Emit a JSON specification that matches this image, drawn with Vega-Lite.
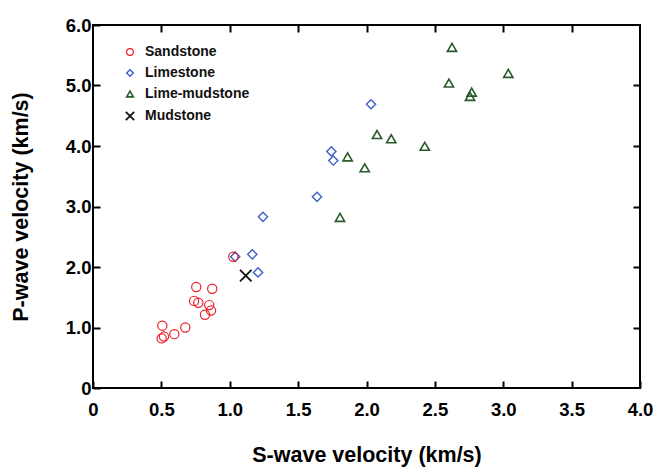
{
  "$schema": "https://vega.github.io/schema/vega-lite/v6.json",
  "width": 547,
  "height": 363,
  "autosize": "none",
  "padding": {"left": 93, "top": 25, "right": 13, "bottom": 80},
  "background": "white",
  "config": {
    "view": {"stroke": "black", "strokeWidth": 2},
    "font": "Liberation Sans",
    "axis": {
      "domain": false, "grid": false, "labelFlush": false, "labelOverlap": false,
      "tickColor": "black", "tickWidth": 2, "tickSize": 7, "tickOffset": 0,
      "labelColor": "black", "labelFont": "Liberation Sans", "labelFontSize": 18.5, "labelFontWeight": "bold",
      "titleColor": "black", "titleFont": "Liberation Sans", "titleFontSize": 21.5, "titleFontWeight": "bold"
    }
  },
  "data": {"values": [
    {"s": 1.04, "p": 2.17, "rock": "Limestone"},
    {"s": 2.033, "p": 4.69, "rock": "Limestone"},
    {"s": 1.743, "p": 3.91, "rock": "Limestone"},
    {"s": 1.757, "p": 3.76, "rock": "Limestone"},
    {"s": 1.638, "p": 3.16, "rock": "Limestone"},
    {"s": 1.243, "p": 2.83, "rock": "Limestone"},
    {"s": 1.165, "p": 2.21, "rock": "Limestone"},
    {"s": 1.207, "p": 1.91, "rock": "Limestone"},
    {"s": 1.026, "p": 2.17, "rock": "Sandstone"},
    {"s": 0.755, "p": 1.67, "rock": "Sandstone"},
    {"s": 0.872, "p": 1.64, "rock": "Sandstone"},
    {"s": 0.739, "p": 1.44, "rock": "Sandstone"},
    {"s": 0.770, "p": 1.41, "rock": "Sandstone"},
    {"s": 0.850, "p": 1.37, "rock": "Sandstone"},
    {"s": 0.863, "p": 1.28, "rock": "Sandstone"},
    {"s": 0.819, "p": 1.21, "rock": "Sandstone"},
    {"s": 0.675, "p": 1.00, "rock": "Sandstone"},
    {"s": 0.507, "p": 1.03, "rock": "Sandstone"},
    {"s": 0.519, "p": 0.85, "rock": "Sandstone"},
    {"s": 0.502, "p": 0.82, "rock": "Sandstone"},
    {"s": 0.595, "p": 0.89, "rock": "Sandstone"},
    {"s": 2.077, "p": 4.19, "rock": "Lime-mudstone"},
    {"s": 2.181, "p": 4.12, "rock": "Lime-mudstone"},
    {"s": 1.862, "p": 3.82, "rock": "Lime-mudstone"},
    {"s": 1.987, "p": 3.64, "rock": "Lime-mudstone"},
    {"s": 1.806, "p": 2.82, "rock": "Lime-mudstone"},
    {"s": 2.625, "p": 5.63, "rock": "Lime-mudstone"},
    {"s": 3.037, "p": 5.20, "rock": "Lime-mudstone"},
    {"s": 2.603, "p": 5.04, "rock": "Lime-mudstone"},
    {"s": 2.769, "p": 4.89, "rock": "Lime-mudstone"},
    {"s": 2.757, "p": 4.82, "rock": "Lime-mudstone"},
    {"s": 2.426, "p": 3.995, "rock": "Lime-mudstone"},
    {"s": 1.117, "p": 1.856, "rock": "Mudstone"}
  ]},
  "layer": [
    {
      "mark": {"type": "point", "filled": false, "opacity": 1, "size": 85},
      "encoding": {
        "x": {"field": "s", "type": "quantitative", "scale": {"domain": [0, 4], "nice": false, "zero": false},
              "axis": {"orient": "bottom", "values": [0, 0.5, 1, 1.5, 2, 2.5, 3, 3.5, 4], "labelExpr": "datum.value == 0 ? '0' : format(datum.value, '.1f')", "title": "S-wave velocity (km/s)", "tickSize": -7, "labelPadding": 19, "titlePadding": 26}},
        "y": {"field": "p", "type": "quantitative", "scale": {"domain": [0, 6], "nice": false, "zero": false},
              "axis": {"orient": "left", "values": [0, 1, 2, 3, 4, 5, 6], "labelExpr": "datum.value == 0 ? '0' : format(datum.value, '.1f')", "title": "P-wave velocity (km/s)", "tickSize": -7, "labelPadding": 9, "titlePadding": 33}},
        "color": {"field": "rock", "type": "nominal",
          "scale": {"domain": ["Sandstone", "Limestone", "Lime-mudstone", "Mudstone"], "range": ["#e8202a", "#3a62c6", "#2a5a2c", "#111111"]},
          "legend": {"title": null, "orient": "none", "legendX": 30, "legendY": 20, "labelFontSize": 14, "labelFontWeight": "bold", "labelColor": "#111111", "symbolSize": 45, "rowPadding": 7, "labelOffset": 8, "symbolType": "circle"}},
        "shape": {"field": "rock", "type": "nominal",
          "scale": {"domain": ["Sandstone", "Limestone", "Lime-mudstone", "Mudstone"], "range": ["circle", "diamond", "triangle-up", "M-1.25,-1.25L1.25,1.25M-1.25,1.25L1.25,-1.25"]},
          "legend": null},
        "strokeWidth": {"field": "rock", "type": "nominal",
          "scale": {"domain": ["Sandstone", "Limestone", "Lime-mudstone", "Mudstone"], "range": [1.2, 1.8, 1.7, 3]},
          "legend": null}
      }
    },
    {
      "mark": {"type": "point", "opacity": 0},
      "encoding": {
        "x": {"field": "s", "type": "quantitative", "scale": {"domain": [0, 4], "nice": false, "zero": false},
              "axis": {"orient": "top", "values": [0.5, 1, 1.5, 2, 2.5, 3, 3.5], "labels": false, "title": null, "tickSize": -7}},
        "y": {"field": "p", "type": "quantitative", "scale": {"domain": [0, 6], "nice": false, "zero": false},
              "axis": {"orient": "right", "values": [1, 2, 3, 4, 5], "labels": false, "title": null, "tickSize": -7}}
      }
    }
  ],
  "resolve": {"axis": {"x": "independent", "y": "independent"}}
}
